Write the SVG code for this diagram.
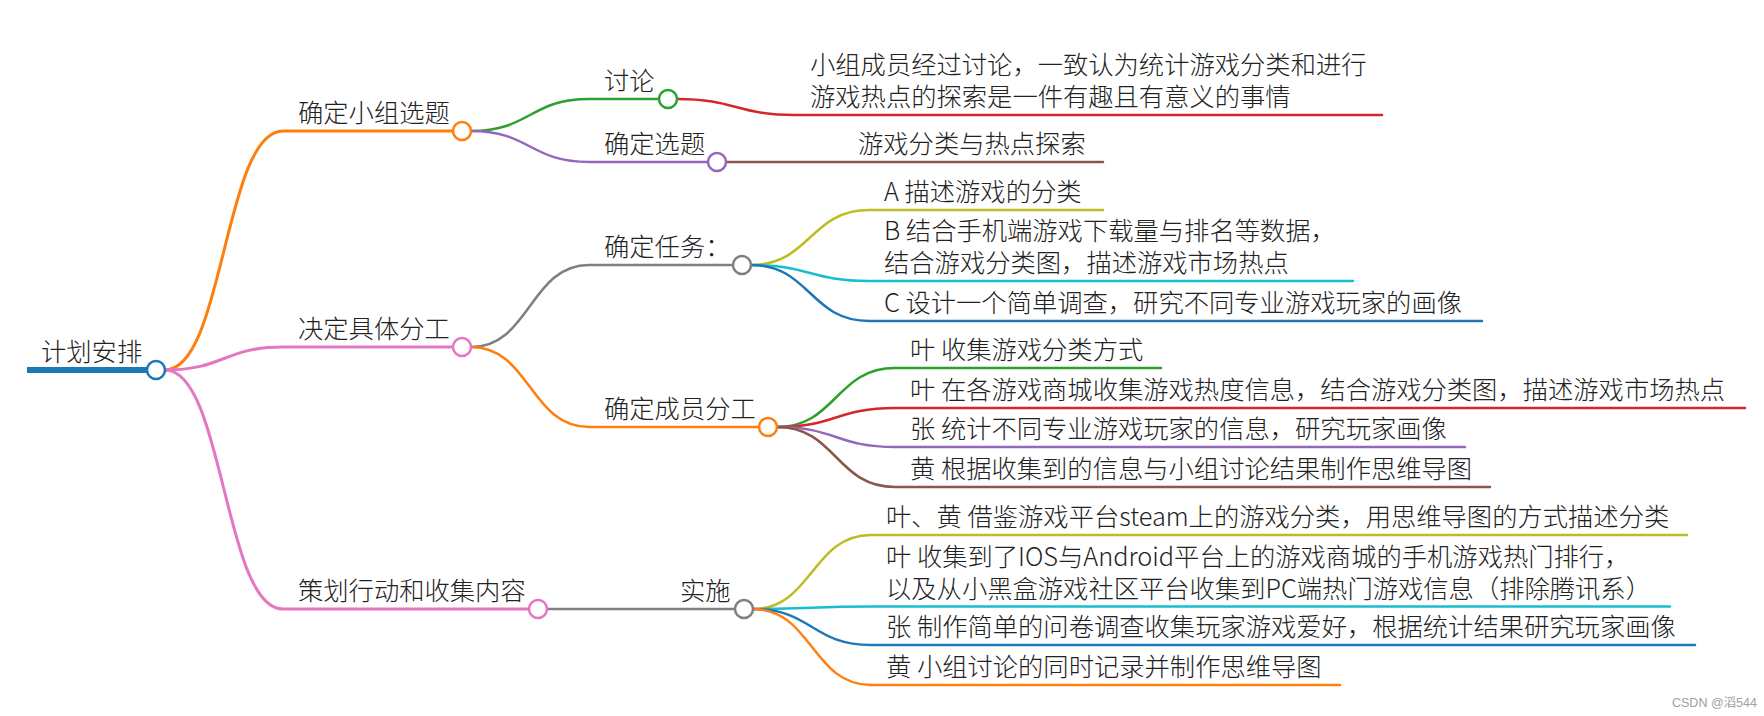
<svg xmlns="http://www.w3.org/2000/svg" width="1764" height="716" viewBox="0 0 1764 716">
<style>
  text { font-family: "Noto Sans CJK SC", "Noto Sans", sans-serif; font-size: 25.3px; font-weight: 300; fill: #222; }
  .ln { fill: none; stroke-width: 2.5; stroke-linecap: round; }
  .l1 { stroke-width: 3; }
  .trunk { stroke-width: 6; stroke-linecap: butt; }
  .nd { fill: #fff; stroke-width: 2.5; }
  .blue { stroke: #1f77b4; } .orange { stroke: #ff7f0e; } .green { stroke: #2ca02c; }
  .red { stroke: #d62728; } .purple { stroke: #9467bd; } .brown { stroke: #8c564b; }
  .pink { stroke: #e377c2; } .gray { stroke: #7f7f7f; } .olive { stroke: #bcbd22; } .cyan { stroke: #17becf; }
  .wm { font-family: "Liberation Sans", "Noto Sans CJK SC", sans-serif; font-size: 12.5px; font-weight: 400; fill: #a0a0a0; }
</style>
<rect width="1764" height="716" fill="#fff"/>
<g id="connectors">
  <path class="ln trunk blue" d="M27 370 H150"/>
  <path class="ln l1 orange" d="M165 370 C224 370 224 131 283 131 H453"/>
  <path class="ln l1 pink" d="M165 370 C224 370 224 347 283 347 H453"/>
  <path class="ln l1 pink" d="M165 370 C224 370 224 609 283 609 H529"/>
  <path class="ln green" d="M471 131 C530 131 530 99 589 99 H659"/>
  <path class="ln purple" d="M471 131 C530 131 530 162 589 162 H708"/>
  <path class="ln gray" d="M471 347 C530 347 530 265 589 265 H733"/>
  <path class="ln orange" d="M471 347 C530 347 530 427 589 427 H759"/>
  <path class="ln gray" d="M547 609 H735"/>
  <path class="ln red" d="M677 99 C736 99 736 115 795 115 H1382"/>
  <path class="ln brown" d="M726 162 H1103"/>
  <path class="ln olive" d="M751 265 C810 265 810 210 869 210 H1103"/>
  <path class="ln cyan" d="M751 265 C810 265 810 281 869 281 H1353"/>
  <path class="ln blue" d="M751 265 C810 265 810 321 869 321 H1482"/>
  <path class="ln green" d="M777 427 C836 427 836 368 895 368 H1161"/>
  <path class="ln red" d="M777 427 C836 427 836 408 895 408 H1745"/>
  <path class="ln purple" d="M777 427 C836 427 836 447 895 447 H1465"/>
  <path class="ln brown" d="M777 427 C836 427 836 487 895 487 H1490"/>
  <path class="ln olive" d="M753 609 C812 609 812 535 871 535 H1687"/>
  <path class="ln cyan" d="M753 609 C812 609 812 606.5 871 606.5 H1670"/>
  <path class="ln blue" d="M753 609 C812 609 812 645 871 645 H1695"/>
  <path class="ln orange" d="M753 609 C812 609 812 685 871 685 H1340"/>
</g>
<g id="root">
  <text x="41" y="361">计划安排</text>
  <circle class="nd blue" cx="156" cy="370" r="9"/>
</g>
<g id="n-topic">
  <text x="298" y="122">确定小组选题</text>
  <circle class="nd orange" cx="462" cy="131" r="9"/>
</g>
<g id="n-division">
  <text x="298" y="338">决定具体分工</text>
  <circle class="nd pink" cx="462" cy="347" r="9"/>
</g>
<g id="n-plan">
  <text x="298" y="600">策划行动和收集内容</text>
  <circle class="nd pink" cx="538" cy="609" r="9"/>
</g>
<g id="n-discuss">
  <text x="604" y="90">讨论</text>
  <circle class="nd green" cx="668" cy="99" r="9"/>
</g>
<g id="n-choose">
  <text x="604" y="153">确定选题</text>
  <circle class="nd purple" cx="717" cy="162" r="9"/>
</g>
<g id="n-task">
  <text x="604" y="256">确定任务：</text>
  <circle class="nd gray" cx="742" cy="265" r="9"/>
</g>
<g id="n-member">
  <text x="604" y="418">确定成员分工</text>
  <circle class="nd orange" cx="768" cy="427" r="9"/>
</g>
<g id="n-impl">
  <text x="680" y="600">实施</text>
  <circle class="nd gray" cx="744" cy="609" r="9"/>
</g>
<g id="leaf-discuss">
  <text x="810" y="74">小组成员经过讨论，一致认为统计游戏分类和进行<tspan x="810" y="106">游戏热点的探索是一件有趣且有意义的事情</tspan></text>
</g>
<g id="leaf-topic"><text x="858" y="153">游戏分类与热点探索</text></g>
<g id="leaf-a"><text x="884" y="201">A 描述游戏的分类</text></g>
<g id="leaf-b">
  <text x="884" y="240">B 结合手机端游戏下载量与排名等数据，<tspan x="884" y="272">结合游戏分类图，描述游戏市场热点</tspan></text>
</g>
<g id="leaf-c"><text x="884" y="312">C 设计一个简单调查，研究不同专业游戏玩家的画像</text></g>
<g id="leaf-m1"><text x="910" y="359">叶 收集游戏分类方式</text></g>
<g id="leaf-m2"><text x="910" y="399">叶 在各游戏商城收集游戏热度信息，结合游戏分类图，描述游戏市场热点</text></g>
<g id="leaf-m3"><text x="910" y="438">张 统计不同专业游戏玩家的信息，研究玩家画像</text></g>
<g id="leaf-m4"><text x="910" y="478">黄 根据收集到的信息与小组讨论结果制作思维导图</text></g>
<g id="leaf-i1"><text x="886" y="526">叶、黄 借鉴游戏平台steam上的游戏分类，用思维导图的方式描述分类</text></g>
<g id="leaf-i2">
  <text x="886" y="565.5">叶 收集到了IOS与Android平台上的游戏商城的手机游戏热门排行，<tspan x="886" y="597.5">以及从小黑盒游戏社区平台收集到PC端热门游戏信息（排除腾讯系）</tspan></text>
</g>
<g id="leaf-i3"><text x="886" y="636">张 制作简单的问卷调查收集玩家游戏爱好，根据统计结果研究玩家画像</text></g>
<g id="leaf-i4"><text x="886" y="676">黄 小组讨论的同时记录并制作思维导图</text></g>
<text class="wm" x="1672" y="707">CSDN @滔544</text>
</svg>
